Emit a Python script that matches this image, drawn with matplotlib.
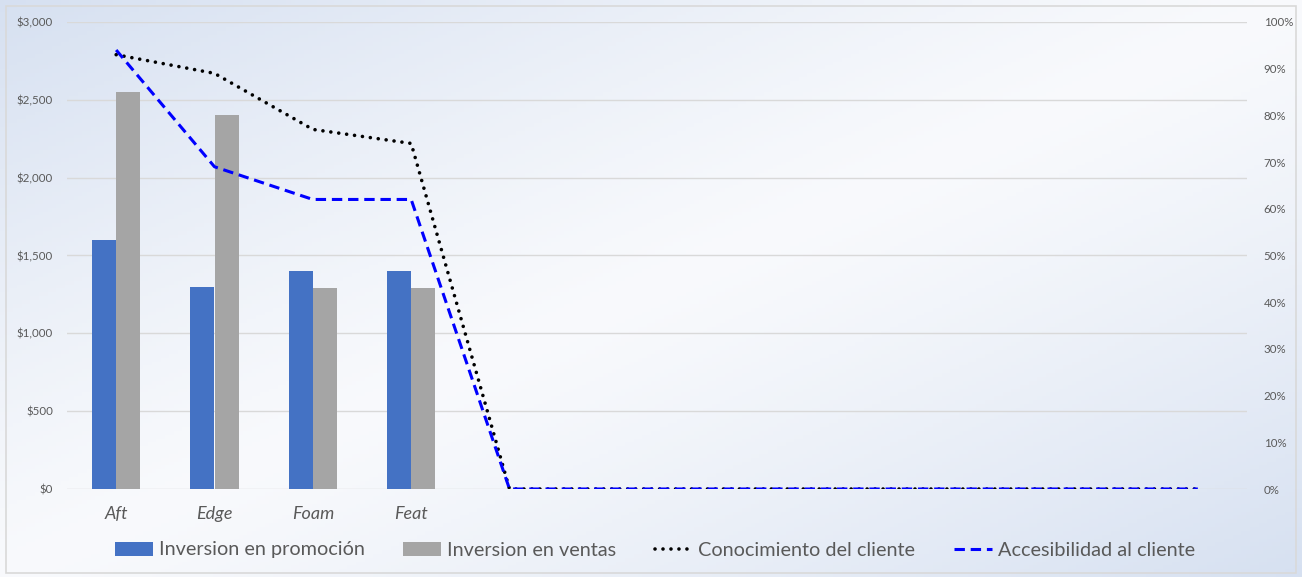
import numpy as np
import matplotlib
matplotlib.use("Agg")
import matplotlib.pyplot as plt
from matplotlib.patches import Rectangle
from matplotlib.ticker import FuncFormatter, MultipleLocator

plt.rcParams['font.family'] = ['Lato', 'DejaVu Sans']

# --- data -------------------------------------------------------------
categories = ['Aft', 'Edge', 'Foam', 'Feat', '', '', '', '', '', '', '', '']
promocion = [1600, 1300, 1400, 1400]          # $ (only first four products)
ventas = [2550, 2400, 1290, 1290]             # $
conocimiento = [0.93, 0.89, 0.77, 0.74, 0, 0, 0, 0, 0, 0, 0, 0]
accesibilidad = [0.94, 0.69, 0.62, 0.62, 0, 0, 0, 0, 0, 0, 0, 0]

label_promo = 'Inversion en promoción'
label_ventas = 'Inversion en ventas'
label_conoc = 'Conocimiento del cliente'
label_acces = 'Accesibilidad al cliente'

BLUE = '#4472c4'
GRAY = '#a5a5a5'
TICK = '#595959'
GRID = '#d9d9d9'

W, H = 1302, 577
fig = plt.figure(figsize=(W / 100, H / 100), dpi=100)

# diagonal background gradient: bluish corners, white through the middle
bg = fig.add_axes([0, 0, 1, 1], zorder=-10)
xx, yy = np.meshgrid(np.linspace(0, 1, 300), np.linspace(0, 1, 150))
t = np.abs((xx + yy) / 2 - 0.5) * 2          # 0 at the diagonal middle, 1 at corners
c0 = np.array([0.975, 0.98, 0.99])
c1 = np.array([0.84, 0.88, 0.945])
img = c0 + (c1 - c0) * (t[..., None] ** 1.2)
bg.imshow(img, aspect='auto', extent=[0, 1, 0, 1], origin='upper')
bg.set_axis_off()
fig.patches.append(Rectangle((6 / W, 4 / H), 1 - 12 / W, 1 - 10 / H,
                             transform=fig.transFigure, fill=False,
                             edgecolor='#d9d9d9', linewidth=1.2))

ax = fig.add_axes([67 / W, 88 / H, 1180 / W, 467 / H])
ax.patch.set_alpha(0)
x = np.arange(len(categories))
bw = 0.245
n = len(promocion)
ax.bar(x[:n] - bw / 2, promocion, bw, color=BLUE, label=label_promo, zorder=2)
ax.bar(x[:n] + bw / 2, ventas, bw, color=GRAY, label=label_ventas, zorder=2)

ax.set_xlim(-0.5, len(categories) - 0.5)
ax.set_ylim(0, 3000)
ax.yaxis.set_major_locator(MultipleLocator(500))
ax.yaxis.set_major_formatter(FuncFormatter(lambda v, p: f'${v:,.0f}'))
ax.grid(axis='y', color=GRID, linewidth=1, zorder=0)
ax.set_xticks(x)
ax.set_xticklabels(categories, fontsize=13, style='italic', color=TICK)
ax.tick_params(axis='both', length=0)
ax.tick_params(axis='x', pad=12)
ax.tick_params(axis='y', labelsize=8.3, labelcolor=TICK, pad=10)
for s in ax.spines.values():
    s.set_visible(False)

ax2 = ax.twinx()
ax2.set_ylim(0, 1)
ax2.yaxis.set_major_locator(MultipleLocator(0.1))
ax2.yaxis.set_major_formatter(FuncFormatter(lambda v, p: f'{v * 100:.0f}%'))
ax2.tick_params(axis='y', length=0, labelsize=8.3, labelcolor=TICK, pad=12)
for s in ax2.spines.values():
    s.set_visible(False)

ax2.plot(x, conocimiento, color='black', linewidth=2.6,
         linestyle=(0, (0.01, 2.2)), dash_capstyle='round',
         label=label_conoc, zorder=3)
ax2.plot(x, accesibilidad, color='#0000ff', linewidth=2.2,
         linestyle=(0, (3.4, 1.9)), label=label_acces, zorder=4)

h1, l1 = ax.get_legend_handles_labels()
h2, l2 = ax2.get_legend_handles_labels()
fig.legend(h1 + h2, l1 + l2, loc='center', bbox_to_anchor=(655 / W, 1 - 550 / H),
           ncol=4, frameon=False, fontsize=14.3, labelcolor=TICK,
           handlelength=1.9, handleheight=0.7, handletextpad=0.3,
           columnspacing=1.95)

fig.savefig('out.png', dpi=100)
